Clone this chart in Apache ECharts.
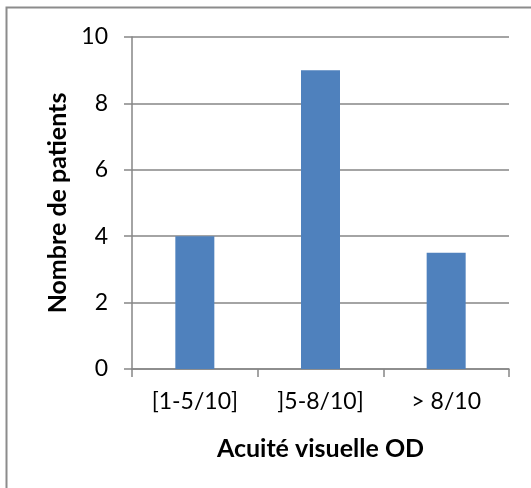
<!DOCTYPE html>
<html>
<head>
<meta charset="utf-8">
<script src="https://cdn.jsdelivr.net/npm/echarts@6/dist/echarts.min.js"></script>
<style>html,body{margin:0;padding:0;background:#fff}#c{width:531px;height:488px}</style>
</head>
<body>
<div id="c"></div>
<script>
var categories = ['[1-5/10]', ']5-8/10]', '> 8/10'];
var patients = [4, 9, 3.5];
var yTicks = [0, 2, 4, 6, 8, 10];

var chart = echarts.init(document.getElementById('c'), null, {renderer: 'canvas'});
var font = 'Lato';
chart.setOption({
  animation: false,
  backgroundColor: '#fff',
  graphic: [{
    type: 'rect', silent: true,
    shape: {x: 6.5, y: 7.5, width: 600, height: 600},
    style: {fill: 'none', stroke: '#8c8c8c', lineWidth: 2}
  }],
  grid: {left: 132, right: 22, top: 37, bottom: 119, containLabel: false},
  xAxis: {
    type: 'category',
    data: categories,
    name: 'Acuité visuelle OD',
    nameLocation: 'middle',
    nameGap: 67,
    nameTextStyle: {fontFamily: font, fontSize: 25, fontWeight: 'bold', color: '#000'},
    axisLine: {lineStyle: {color: '#868686', width: 1.5}},
    axisTick: {show: true, length: 8, lineStyle: {color: '#868686', width: 1.5}},
    axisLabel: {fontFamily: font, fontSize: 23, color: '#000', margin: 21},
    splitLine: {show: false}
  },
  yAxis: {
    type: 'value',
    min: yTicks[0], max: yTicks[yTicks.length - 1], interval: 2,
    name: 'Nombre de patients',
    nameLocation: 'middle',
    nameGap: 60,
    nameTextStyle: {fontFamily: font, fontSize: 25, fontWeight: 'bold', color: '#000'},
    axisLine: {show: true, lineStyle: {color: '#868686', width: 1.5}},
    axisTick: {show: true, length: 8, lineStyle: {color: '#868686', width: 1.5}},
    axisLabel: {fontFamily: font, fontSize: 23, color: '#000', margin: 24},
    splitLine: {show: true, lineStyle: {color: '#868686', width: 1.5}}
  },
  series: [{
    type: 'bar',
    data: patients,
    barWidth: 39,
    itemStyle: {color: '#4F81BD'}
  }]
});
</script>
</body>
</html>
